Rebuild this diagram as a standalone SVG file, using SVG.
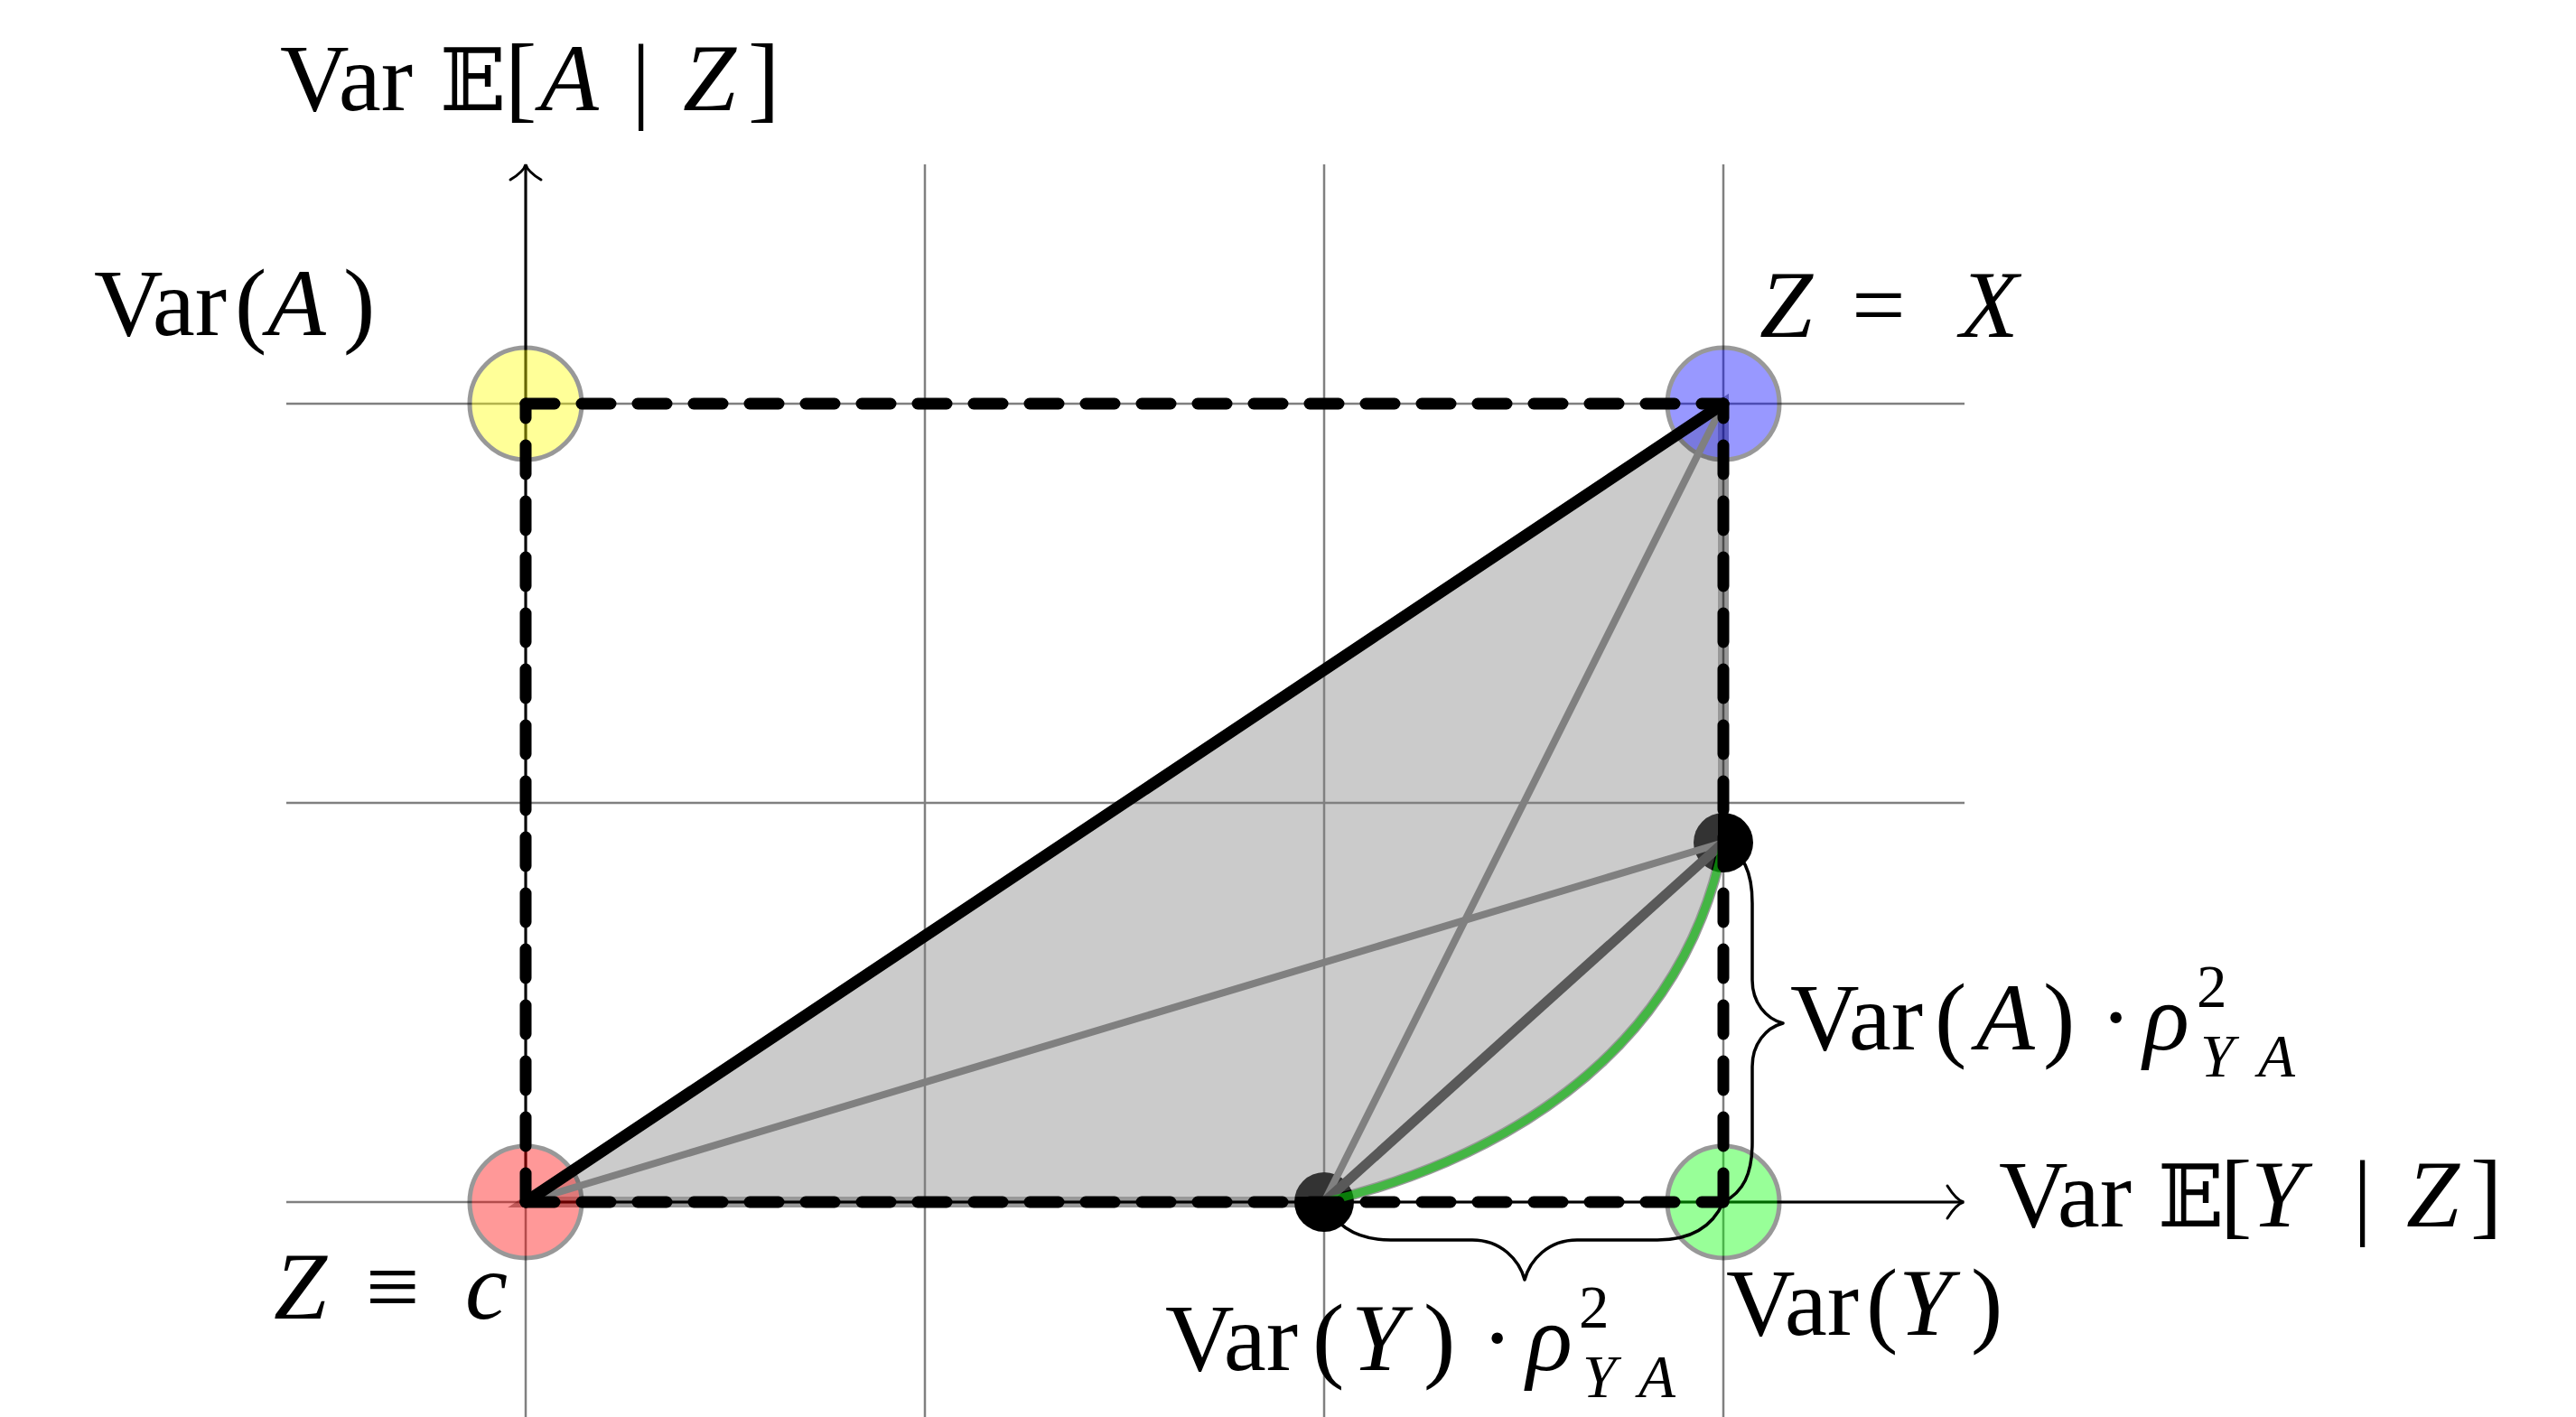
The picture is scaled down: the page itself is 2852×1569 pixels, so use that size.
<svg xmlns="http://www.w3.org/2000/svg" width="2852" height="1569" viewBox="0 0 2852 1569">
<style>
.grid line{stroke:#808080;stroke-width:2.5}
.axis{stroke:#000;stroke-width:3;fill:none;stroke-linecap:round}
.dash{stroke:#000;stroke-width:13;stroke-dasharray:32 30;stroke-linecap:round;fill:none}
.node{stroke:#000;stroke-width:5;opacity:0.4}
.dot{fill:#000}
.brace{stroke:#000;stroke-width:3.5;fill:none;stroke-linejoin:round}
.lbl{font-family:'Liberation Serif','DejaVu Serif',serif;font-size:106px;fill:#000}
.it{font-style:italic}
.sm{font-size:67px}
.bb{font-family:'DejaVu Serif','DejaVu Sans',serif;font-size:96px}
</style>
<rect width="2852" height="1569" fill="#fff"/>
<g id="grid" class="grid">
<line x1="317" y1="447" x2="2175" y2="447"/>
<line x1="317" y1="889" x2="2175" y2="889"/>
<line x1="317" y1="1331" x2="2175" y2="1331"/>
<line x1="582" y1="182" x2="582" y2="1569"/>
<line x1="1024" y1="182" x2="1024" y2="1569"/>
<line x1="1466" y1="182" x2="1466" y2="1569"/>
<line x1="1908" y1="182" x2="1908" y2="1569"/>
</g>
<g id="axes">
<line class="axis" x1="582" y1="1331" x2="2172" y2="1331"/>
<path class="axis" d="M2156,1313 Q2166,1329 2174,1331 Q2166,1333 2156,1349"/>
<line class="axis" x1="582" y1="1331" x2="582" y2="184"/>
<path class="axis" d="M565,199 Q580,190 582,182 Q584,190 599,199"/>
<text class="lbl" y="122"><tspan x="310">Var</tspan><tspan class="bb" x="487">𝔼</tspan><tspan x="559">[</tspan><tspan class="it" x="598">A</tspan><tspan x="699">|</tspan><tspan class="it" x="756">Z</tspan><tspan x="828">]</tspan></text>
<text class="lbl" y="1358"><tspan x="2213">Var</tspan><tspan class="bb" x="2389">𝔼</tspan><tspan x="2458">[</tspan><tspan class="it" x="2492">Y</tspan><tspan x="2605">|</tspan><tspan class="it" x="2664">Z</tspan><tspan x="2735">]</tspan></text>
</g>
<g id="dots">
<circle class="dot" cx="1908" cy="933" r="33"/>
<circle class="dot" cx="1466" cy="1331" r="33"/>
</g>
<path id="region" d="M582,1331 L1908,447 L1908,933 C1860,1180 1640,1290 1466,1331 Z" fill="#808080" stroke="#000" stroke-width="12" opacity="0.4"/>
<g id="node-c">
<circle class="node" cx="582" cy="1331" r="62" fill="#ff0000"/>
<text class="lbl" y="1460"><tspan class="it" x="303">Z</tspan><tspan x="405">≡</tspan><tspan class="it" x="515">c</tspan></text>
</g>
<g id="node-A">
<circle class="node" cx="582" cy="447" r="62" fill="#ffff00"/>
<text class="lbl" y="371"><tspan x="104">Var</tspan><tspan x="260">(</tspan><tspan class="it" x="296">A</tspan><tspan x="380">)</tspan></text>
</g>
<g id="node-X">
<circle class="node" cx="1908" cy="447" r="62" fill="#0000ff"/>
<text class="lbl" y="373"><tspan class="it" x="1948">Z</tspan><tspan x="2050">=</tspan><tspan class="it" x="2170">X</tspan></text>
</g>
<g id="node-Y">
<circle class="node" cx="1908" cy="1331" r="62" fill="#00ff00"/>
<text class="lbl" y="1478"><tspan x="1911">Var</tspan><tspan x="2066">(</tspan><tspan class="it" x="2102">Y</tspan><tspan x="2182">)</tspan></text>
</g>
<g id="connectors">
<line x1="582" y1="1331" x2="1908" y2="933" stroke="#808080" stroke-width="8"/>
<line x1="1466" y1="1331" x2="1908" y2="447" stroke="#808080" stroke-width="8"/>
<line x1="1466" y1="1331" x2="1908" y2="933" stroke="#595959" stroke-width="11"/>
<line x1="582" y1="1331" x2="1908" y2="447" stroke="#000" stroke-width="13" stroke-linecap="round"/>
<path d="M1466,1331 C1640,1290 1860,1180 1908,933" stroke="#10c810" stroke-width="9" fill="none" opacity="0.62"/>
<line class="dash" x1="582" y1="1331" x2="1908" y2="1331"/>
<line class="dash" x1="582" y1="447" x2="1908" y2="447"/>
<line class="dash" x1="582" y1="1331" x2="582" y2="447"/>
<line class="dash" x1="1908" y1="1331" x2="1908" y2="447"/>
</g>
<g id="brace-A">
<path class="brace" d="M1908,933 C1930,945 1940,965 1940,1000 L1940,1085 C1940,1110 1955,1128 1974,1133 C1955,1138 1940,1156 1940,1181 L1940,1265 C1940,1300 1930,1320 1908,1331"/>
<text class="lbl" y="1162"><tspan x="1982">Var</tspan><tspan x="2142">(</tspan><tspan class="it" x="2188">A</tspan><tspan x="2262">)</tspan><tspan x="2325">·</tspan><tspan class="it" x="2373">ρ</tspan><tspan class="sm" x="2432" y="1115">2</tspan><tspan class="sm it" x="2436" y="1192">Y</tspan><tspan class="sm it" x="2500" y="1192">A</tspan></text>
</g>
<g id="brace-Y">
<path class="brace" d="M1466,1331 C1478,1356 1500,1373 1540,1373 L1630,1373 C1662,1373 1682,1395 1688,1417 C1694,1395 1714,1373 1746,1373 L1835,1373 C1875,1373 1897,1356 1908,1331"/>
<text class="lbl" y="1517"><tspan x="1290">Var</tspan><tspan x="1453">(</tspan><tspan class="it" x="1496">Y</tspan><tspan x="1576">)</tspan><tspan x="1640">·</tspan><tspan class="it" x="1690">ρ</tspan><tspan class="sm" x="1748" y="1470">2</tspan><tspan class="sm it" x="1752" y="1547">Y</tspan><tspan class="sm it" x="1814" y="1547">A</tspan></text>
</g>
</svg>
